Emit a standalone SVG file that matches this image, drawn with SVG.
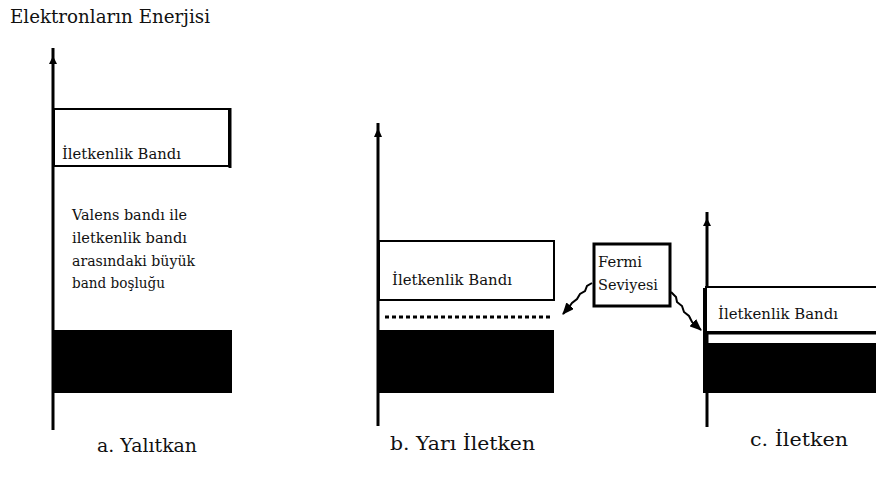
<svg xmlns="http://www.w3.org/2000/svg" width="876" height="479" viewBox="0 0 876 479">
  <style>
    text { font-family: "DejaVu Serif", "Liberation Serif", "Times New Roman", Times, serif; fill: #111; }
    .axis { stroke: #000; stroke-width: 3; fill: none; }
    .band { fill: #fff; stroke: #000; stroke-width: 2; }
    .valence { fill: #000; }
    .conn { stroke: #000; stroke-width: 2; fill: none; }
  </style>
  <defs>
    <marker id="arrowHead" markerWidth="12" markerHeight="10" refX="11" refY="5" orient="auto" markerUnits="userSpaceOnUse">
      <path d="M0,0 L12,5 L0,10 Z" fill="#000"/>
    </marker>
  </defs>

  <rect width="876" height="479" fill="#fff"/>

  <text id="title" x="10" y="23" font-size="19" textLength="200" lengthAdjust="spacingAndGlyphs">Elektronların Enerjisi</text>

  <!-- a. insulator -->
  <g id="insulator">
    <line class="axis" x1="53" y1="430" x2="53" y2="48"/>
    <path d="M49,64 L53,56 L57,64 Z" fill="#000"/>
    <rect class="band" x="54" y="109" width="175" height="57"/>
    <line x1="230" y1="108" x2="230" y2="168" stroke="#000" stroke-width="3"/>
    <text x="62" y="159" font-size="14" textLength="119" lengthAdjust="spacingAndGlyphs">İletkenlik Bandı</text>
    <text x="72" y="220" font-size="14" textLength="115" lengthAdjust="spacingAndGlyphs">Valens bandı ile</text>
    <text x="72" y="243" font-size="14" textLength="115" lengthAdjust="spacingAndGlyphs">iletkenlik bandı</text>
    <text x="72" y="266" font-size="14" textLength="123" lengthAdjust="spacingAndGlyphs">arasındaki büyük</text>
    <text x="72" y="288" font-size="14" textLength="93" lengthAdjust="spacingAndGlyphs">band boşluğu</text>
    <rect class="valence" x="53" y="330" width="179" height="63"/>
    <text x="97" y="452" font-size="19" textLength="100" lengthAdjust="spacingAndGlyphs">a. Yalıtkan</text>
  </g>

  <!-- b. semiconductor -->
  <g id="semiconductor">
    <line class="axis" x1="378" y1="426" x2="378" y2="123"/>
    <path d="M374,137 L378,128 L382,137 Z" fill="#000"/>
    <rect class="band" x="379" y="241" width="175" height="59"/>
    <text x="392" y="285" font-size="14" textLength="120" lengthAdjust="spacingAndGlyphs">İletkenlik Bandı</text>
    <line x1="385" y1="317" x2="553" y2="317" stroke="#000" stroke-width="3" stroke-dasharray="4,3"/>
    <rect class="valence" x="378" y="330" width="176" height="63"/>
    <text x="390" y="450" font-size="19" textLength="145" lengthAdjust="spacingAndGlyphs">b. Yarı İletken</text>
  </g>

  <!-- c. conductor -->
  <g id="conductor">
    <line class="axis" x1="707" y1="427" x2="707" y2="212"/>
    <path d="M703,226 L707,218 L711,226 Z" fill="#000"/>
    <rect class="band" x="706" y="287" width="175" height="45"/>
    <line x1="706" y1="333" x2="876" y2="333" stroke="#000" stroke-width="3"/>
    <rect x="703" y="288" width="4" height="104" fill="#000"/>
    <text x="718" y="319" font-size="14" textLength="120" lengthAdjust="spacingAndGlyphs">İletkenlik Bandı</text>
    <rect class="valence" x="703" y="343" width="173" height="50"/>
    <text x="750" y="446" font-size="19" textLength="98" lengthAdjust="spacingAndGlyphs">c. İletken</text>
  </g>

  <!-- Fermi level callout -->
  <g id="fermi">
    <rect x="594" y="244" width="76" height="62" fill="#fff" stroke="#000" stroke-width="3"/>
    <text x="598" y="267" font-size="14" textLength="44" lengthAdjust="spacingAndGlyphs">Fermi</text>
    <text x="598" y="290" font-size="14" textLength="60" lengthAdjust="spacingAndGlyphs">Seviyesi</text>
  </g>

  <g id="connectors">
    <path class="conn" d="M592,283 L587,286 L585,291 L580,294 L577,299 L572,303 L569,307 L563,314" marker-end="url(#arrowHead)"/>
    <path class="conn" d="M671,292 L676,297 L677,302 L682,306 L684,312 L689,316 L692,322 L701,330" marker-end="url(#arrowHead)"/>
  </g>
</svg>
